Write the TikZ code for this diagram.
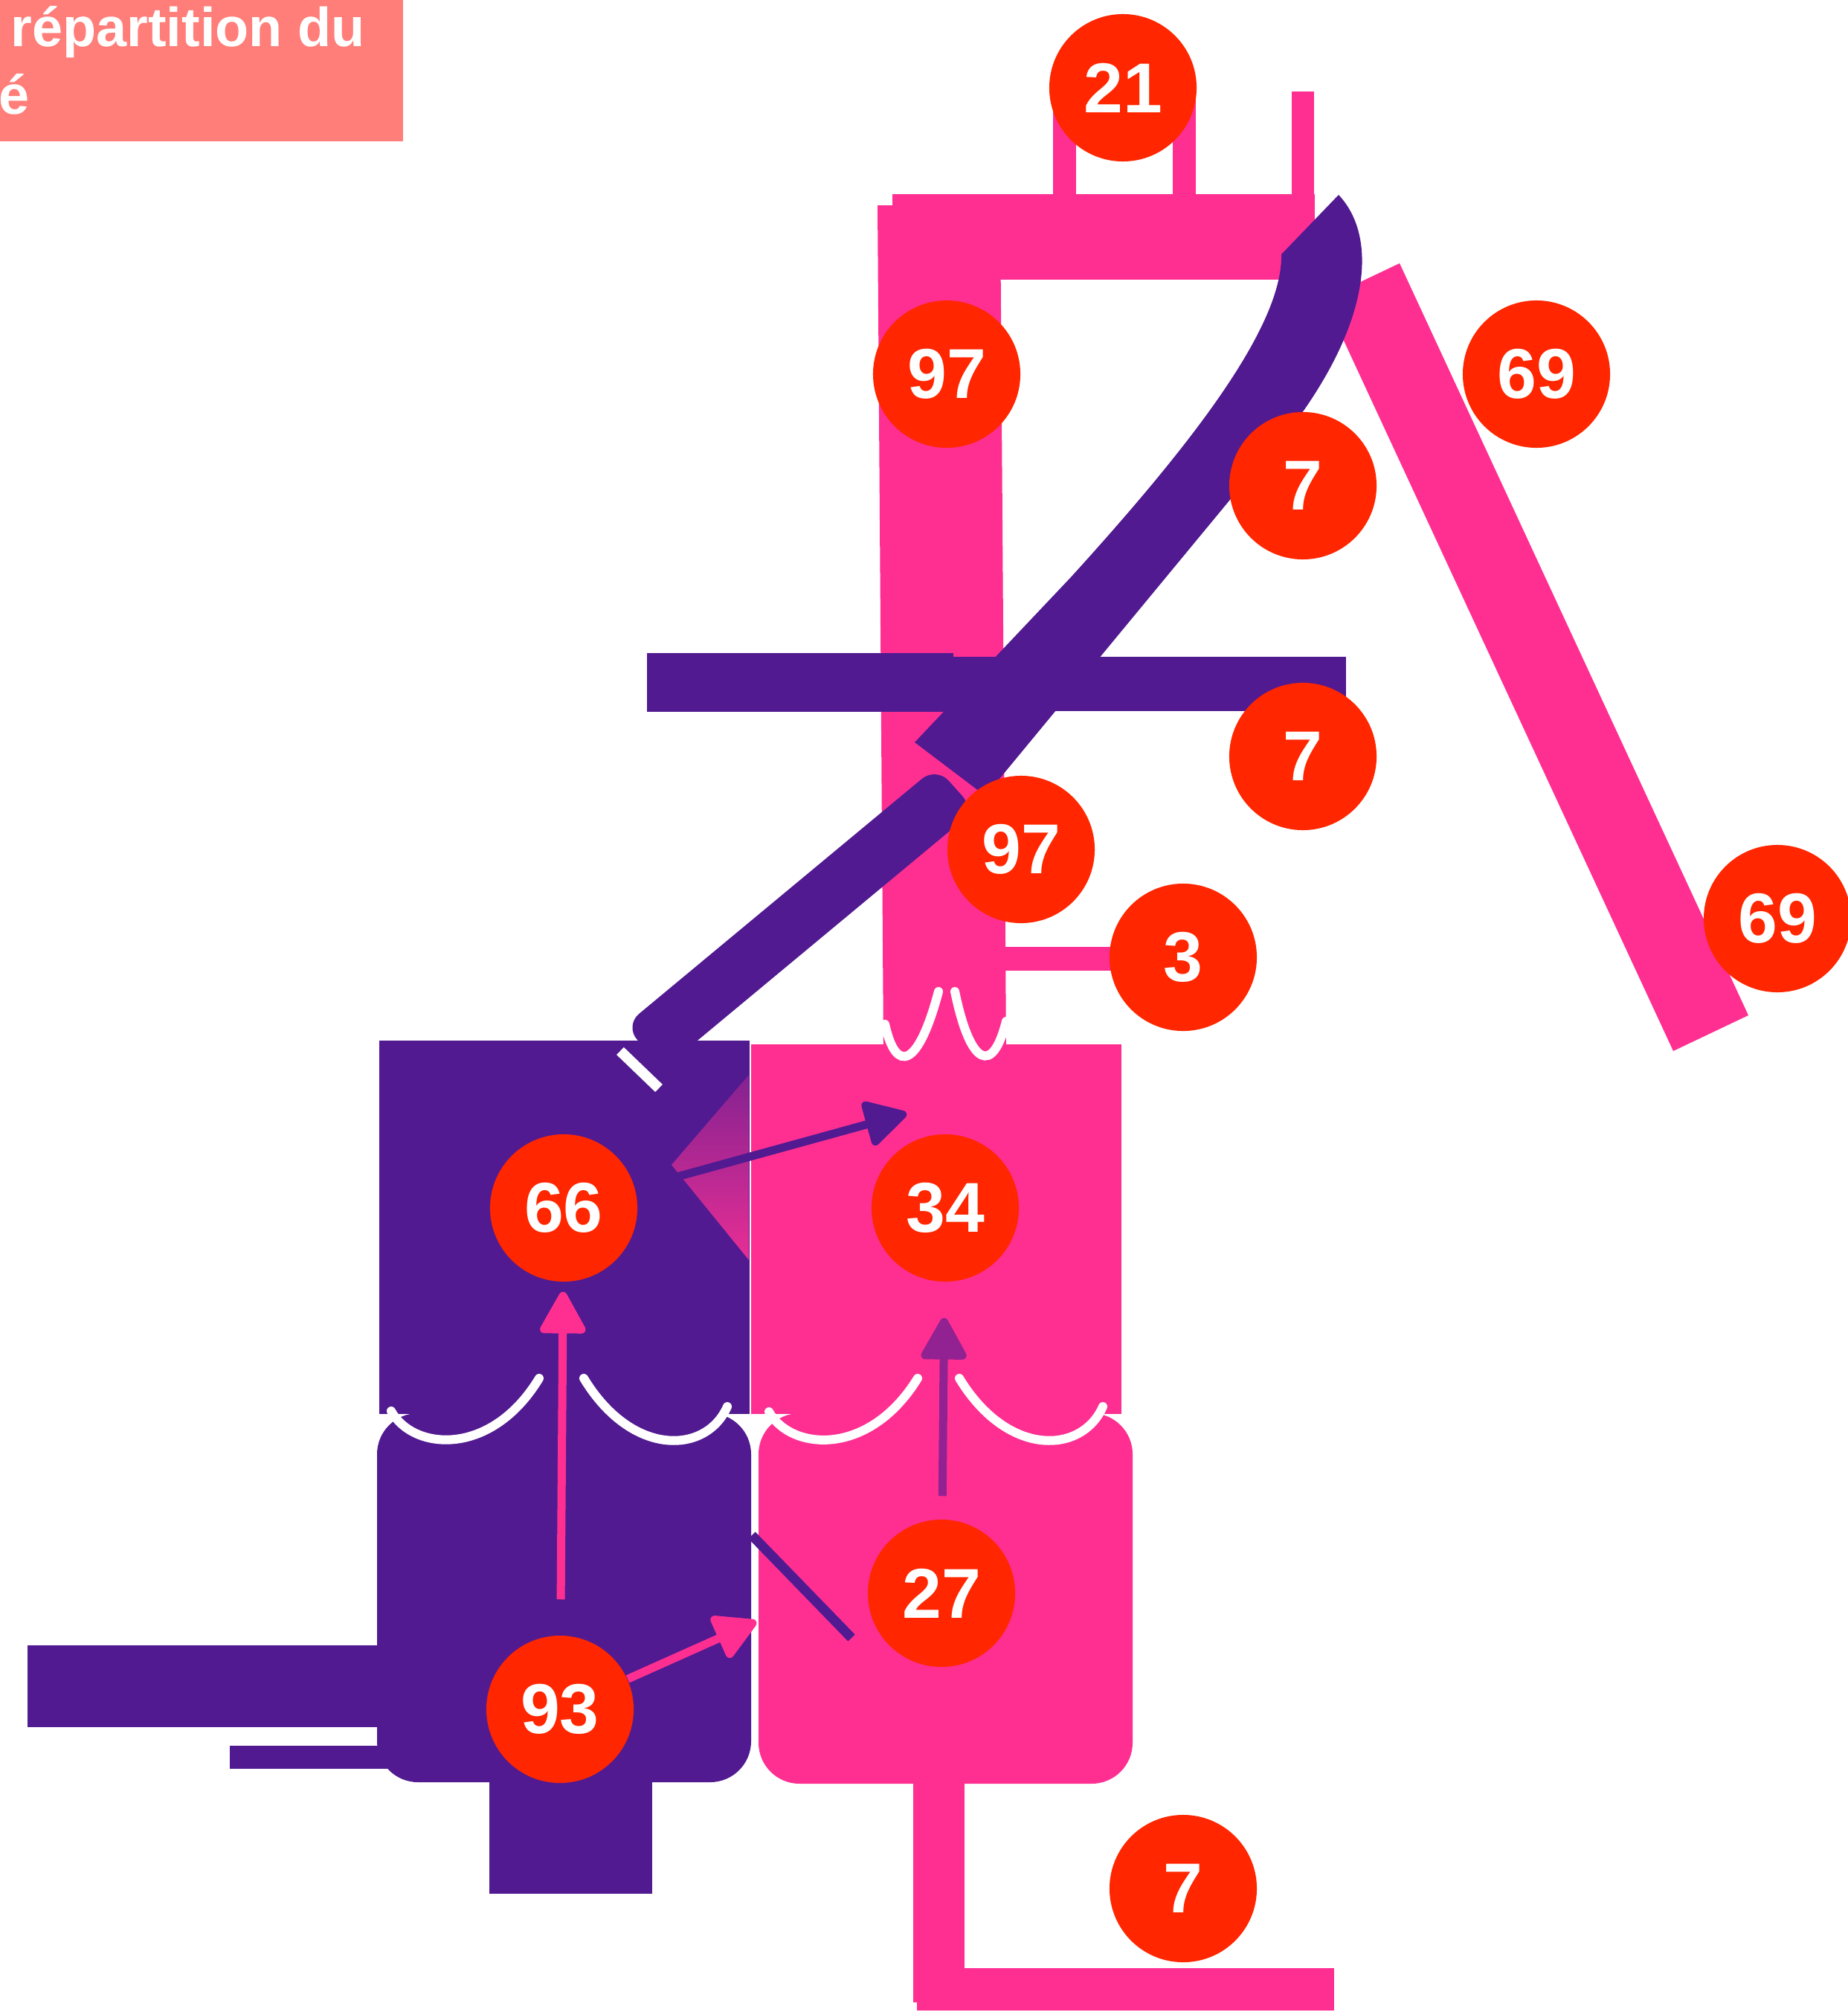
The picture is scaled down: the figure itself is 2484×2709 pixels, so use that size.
\documentclass[tikz,border=0pt]{standalone}
\usepackage{fontspec}
\setmainfont{Liberation Sans}
\usetikzlibrary{arrows.meta}
\definecolor{purp}{RGB}{81,26,145}
\definecolor{pinkc}{RGB}{255,47,146}
\definecolor{redc}{RGB}{255,38,0}
\definecolor{salmon}{RGB}{255,126,121}
\definecolor{mauve}{RGB}{146,34,145}
\definecolor{fadetop}{RGB}{132,34,145}
\definecolor{fadebot}{RGB}{232,46,148}

\tikzset{
  badge/.style={circle, fill=redc, text=white, minimum size=1.98cm, inner sep=0pt,
    font=\fontsize{27}{27}\selectfont\bfseries},
  scallop/.style={white, line width=0.12cm, line cap=round},
  flow/.style={line width=0.11cm, -{Triangle[length=0.62cm, width=0.66cm, round]}},
  headline/.style={anchor=base west, inner sep=0pt, text=white,
    font=\fontsize{21}{21}\selectfont\bfseries}
}

\begin{document}
\begin{tikzpicture}[x=0.01cm, y=-0.01cm]
\useasboundingbox (0,0) rectangle (2484,2709);

% --- Title ---
\fill[salmon] (0,0) rectangle (542,190);
\node[headline] (title1) at (14,63) {répartition du};
\node[headline] (title2) at (-2,154) {é};

% --- Pink frame (top) ---
\fill[pinkc] (1180,276) -- (1345,276) -- (1353,1410) -- (1188,1410) -- cycle;
\fill[pinkc] (1200,261) rectangle (1768,376);
\fill[pinkc] (1416,118) rectangle (1447,262);
\fill[pinkc] (1577,118) rectangle (1608,262);
\fill[pinkc] (1737,123) rectangle (1767,262);
\fill[pinkc] (1350,1273) rectangle (1500,1305);

% Right diagonal
\fill[pinkc] (1781,402) -- (1882,354) -- (2351,1365) -- (2250,1413) -- cycle;

% --- Purple crossbar and blade ---
\fill[purp] (870,878) rectangle (1282,957);
\fill[purp] (1280,883) rectangle (1810,956);
\fill[purp] (1723,342) -- (1800,262) .. controls (1850,315) and (1845,420) .. (1753,552)
  -- (1325,1070) -- (1230,998) -- (1440,776) .. controls (1600,600) and (1725,440) .. cycle;

% --- Upper boxes ---
\fill[purp] (510,1399) rectangle (1008,1901);
\fill[pinkc] (1010,1404) rectangle (1508,1901);
\shade[top color=fadetop, bottom color=fadebot] (1007,1445) -- (903,1566) -- (1007,1694) -- cycle;

% --- Lower boxes ---
\fill[purp] (37,2212) rectangle (540,2322);
\fill[purp] (309,2347) rectangle (530,2378);
\fill[purp] (658,2380) rectangle (877,2546);
\fill[purp, rounded corners=0.55cm] (507,1900) rectangle (1010,2396);
\fill[pinkc] (1228,2390) rectangle (1297,2692);
\fill[pinkc] (1233,2646) rectangle (1794,2703);
\fill[pinkc, rounded corners=0.55cm] (1020,1900) rectangle (1523,2398);

% --- Lower blade ---
\fill[purp, rounded corners=0.25cm] (1259,1031) -- (1311,1089) -- (892,1437) -- (840,1379) -- cycle;
\draw[white, line width=0.14cm] (834,1413) -- (886,1463);

% --- White scallops ---
\draw[scallop] (1190,1377) .. controls (1205,1445) and (1235,1435) .. (1262,1333);
\draw[scallop] (1284,1333) .. controls (1305,1435) and (1335,1445) .. (1353,1373);
\draw[scallop] (526,1897) .. controls (555,1950) and (660,1960) .. (725,1853);
\draw[scallop] (785,1853) .. controls (850,1960) and (950,1955) .. (978,1891);
\draw[scallop] (1034,1898) .. controls (1063,1950) and (1168,1960) .. (1234,1853);
\draw[scallop] (1290,1853) .. controls (1355,1960) and (1455,1955) .. (1483,1891);

% --- Badges ---
\node[badge] (n21) at (1510,118) {21};
\node[badge] (n97a) at (1273,503) {97};
\node[badge] (n69a) at (2066,503) {69};
\node[badge] (n7a) at (1752,653) {7};
\node[badge] (n7b) at (1752,1017) {7};
\node[badge] (n97b) at (1373,1142) {97};
\node[badge] (n3) at (1591,1287) {3};
\node[badge] (n69b) at (2390,1235) {69};
\node[badge] (n66) at (758,1624) {66};
\node[badge] (n34) at (1271,1624) {34};
\node[badge] (n27) at (1266,2142) {27};
\node[badge] (n93) at (753,2298) {93};
\node[badge] (n7c) at (1591,2539) {7};

% --- Arrows ---
\coordinate (t66) at (1219,1497);
\coordinate (t93) at (1017,2180);
\coordinate (d1) at (1011,2064);
\coordinate (d2) at (1145,2202);
\draw[flow, purp] (n66) -- (t66);
\draw[flow, pinkc, shorten <=0.48cm, shorten >=0.13cm] (n93) -- (n66);
\draw[flow, mauve, shorten <=0.31cm, shorten >=0.48cm] (n27) -- (n34);
\draw[flow, pinkc] (n93) -- (t93);
\draw[purp, line width=0.13cm] (d1) -- (d2);
\end{tikzpicture}
\end{document}
